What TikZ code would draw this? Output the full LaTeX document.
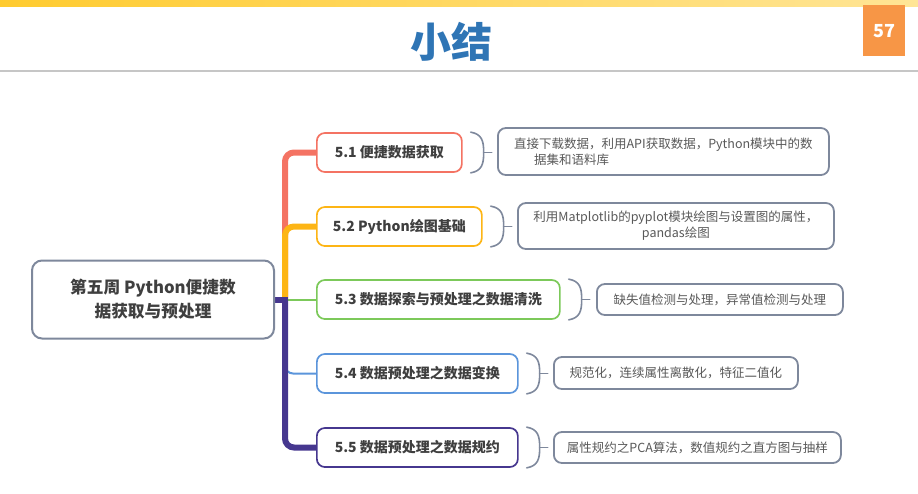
\documentclass[tikz,border=0pt]{standalone}
\usepackage{fontspec}
\setmainfont{Noto Sans CJK SC}
\usetikzlibrary{calc,backgrounds}
\definecolor{topA}{HTML}{FFCB2F}
\definecolor{topB}{HTML}{FFE596}
\definecolor{rulegray}{HTML}{C6C6C6}
\definecolor{pageorange}{HTML}{F79646}
\definecolor{titleblue}{HTML}{2F75B5}
\definecolor{bordergray}{HTML}{7E889C}
\definecolor{textdark}{HTML}{3F3F3F}
\definecolor{textgray}{HTML}{595959}
\definecolor{cred}{HTML}{F47363}
\definecolor{corange}{HTML}{FDB515}
\definecolor{cgreen}{HTML}{7CC95A}
\definecolor{cblue}{HTML}{5B95DB}
\definecolor{cpurple}{HTML}{46378F}
\tikzset{
  mainbox/.style={draw=bordergray, line width=2, rounded corners=10, fill=white, inner sep=0,
    minimum width=242, minimum height=78, anchor=west, align=center, text=textdark,
    font=\fontsize{16.7}{24}\selectfont\bfseries},
  childbox/.style={draw=#1, line width=1.7, rounded corners=8, fill=white, inner sep=0,
    minimum height=39, anchor=west, text=textdark, font=\fontsize{14}{17}\selectfont\bfseries},
  descbox/.style={draw=bordergray, line width=1.8, rounded corners=8, fill=white, inner sep=0,
    anchor=west, text=textgray, font=\fontsize{12.5}{16}\selectfont},
  thickbr/.style={line width=6, draw=#1, rounded corners=9},
  thinbr/.style={line width=2, draw=#1, rounded corners=8},
  bracestyle/.style={draw=bordergray, line width=1.6, line cap=round},
}
\newcommand\mybrace[1]{%
  \draw[bracestyle] ($(#1.north east)+(8,0)$) .. controls +(11,2) and +(0,-12) .. ($(#1.east)+(21,0)$)
     .. controls +(0,12) and +(11,-2) .. ($(#1.south east)+(8,0)$);
  \draw[bracestyle] ($(#1.east)+(21,0)$) -- ($(#1.east)+(29,0)$);
}
\begin{document}
\begin{tikzpicture}[x=1pt,y=-1pt]
\useasboundingbox (0,0) rectangle (918,493);
% header
\shade[left color=topA, right color=topB] (0,0) rectangle (918,6);
\draw[line width=2, color=rulegray] (0,71) -- (918,71);
\node[fill=pageorange, minimum width=42, minimum height=51, anchor=north west, inner sep=0,
  text=white, font=\fontsize{18}{20}\selectfont\bfseries] (pg) at (863,5) {57};
\node[text=titleblue, font=\fontsize{41}{46}\selectfont\bfseries] (title) at (451,42) {小结};

% main node
\node[mainbox] (m) at (31,299.5) {第五周 Python便捷数\\据获取与预处理};

% children
\node[childbox=cred, minimum width=145] (c1) at (316,152.5) {5.1 便捷数据获取};
\node[childbox=corange, minimum width=165] (c2) at (316,226.5) {5.2 Python绘图基础};
\node[childbox=cgreen, minimum width=243] (c3) at (316,299.5) {5.3 数据探索与预处理之数据清洗};
\node[childbox=cblue, minimum width=201] (c4) at (316,373.5) {5.4 数据预处理之数据变换};
\node[childbox=cpurple, minimum width=201] (c5) at (316,447.5) {5.5 数据预处理之数据规约};

% descriptions
\node[descbox, minimum width=331, minimum height=47, align=left] (d1) at (497,151.5)
  {直接下载数据，利用API获取数据，Python模块中的数\\\hspace*{20pt}据集和语料库};
\node[descbox, minimum width=316, minimum height=46, align=center] (d2) at (517,226)
  {利用Matplotlib的pyplot模块绘图与设置图的属性，\\pandas绘图};
\node[descbox, minimum width=246, minimum height=31] (d3) at (596,299.5)
  {缺失值检测与处理，异常值检测与处理};
\node[descbox, minimum width=244, minimum height=32] (d4) at (553,373)
  {规范化，连续属性离散化，特征二值化};
\node[descbox, minimum width=287, minimum height=31] (d5) at (553,447.5)
  {属性规约之PCA算法，数值规约之直方图与抽样};

% braces
\mybrace{c1}
\mybrace{c2}
\mybrace{c3}
\mybrace{c4}
\mybrace{c5}

% connectors
\coordinate (j) at ($(m.east)+(10,0)$);
\begin{scope}[on background layer]
  \draw[thickbr=cred] (j) |- (c1.west);
  \draw[thickbr=corange] (j) |- (c2.west);
  \draw[thinbr=cgreen] (j) -- (c3.west);
  \draw[thinbr=cblue] (j) |- (c4.west);
  \draw[thickbr=cpurple] (j) |- (c5.west);
  \draw[line width=6, draw=cpurple] (m.east) -- ($(j)+(3,0)$);
\end{scope}
\end{tikzpicture}
\end{document}
